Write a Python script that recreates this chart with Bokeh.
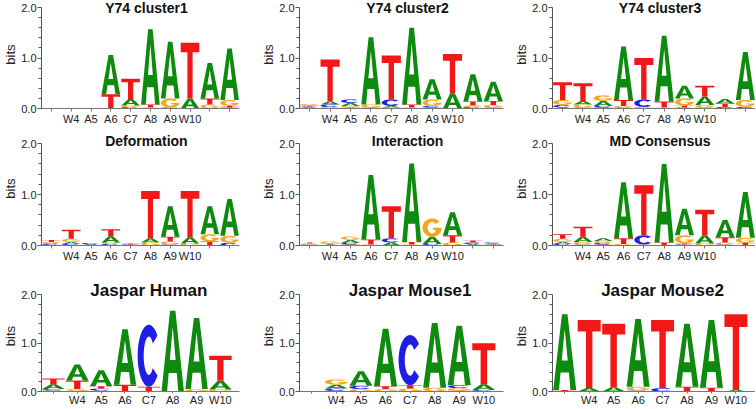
import numpy as np
from bokeh.plotting import figure
from bokeh.layouts import column, row
from bokeh.models import Label, FixedTicker, ColumnDataSource, Range1d, NumeralTickFormatter
from bokeh.embed import file_html
from bokeh.resources import INLINE

# ---------------- data (bits per letter, per logo column) ----------------
POS_LABELS = ["W4", "A5", "A6", "C7", "A8", "A9", "W10"]

cluster1 = dict(
    A=[0, 0, 0, .78, .13, 1.49, 1.12, .20, .70, 1.02],
    C=[0, 0, 0, 0, .03, 0, .02, 0, 0, .02],
    G=[0, 0, 0, 0, .03, .02, .18, 0, .08, .12],
    T=[0, 0, 0, .28, .40, .06, 0, 1.10, .12, .03],
)
cluster2 = dict(
    A=[.02, .06, .06, 1.33, .03, 1.52, .40, .30, .54, .38],
    C=[.02, .05, .07, 0, .13, 0, .03, 0, .03, .02],
    G=[.03, .03, .03, .06, .02, .02, .13, 0, .03, .05],
    T=[.02, .83, .02, .02, .87, .06, .02, .78, .08, .08],
)
cluster3 = dict(
    A=[.02, .07, .10, 1.06, 0, 1.30, .25, .17, .09, .95],
    C=[.05, .02, .03, .02, .15, 0, .02, .02, .02, .02],
    G=[.10, .06, .11, .03, .03, .02, .14, .05, .01, .14],
    T=[.35, .35, .02, .12, .82, .12, .04, .21, .07, .01],
)
deformation = dict(
    A=[.01, .04, .02, .12, 0, .08, .60, .12, .55, .72],
    C=[.03, .03, .03, .03, .02, 0, .02, 0, 0, .05],
    G=[.03, .06, 0, .03, 0, .06, .06, .04, .14, .14],
    T=[.04, .18, 0, .14, .02, .93, .09, .91, .08, 0],
)
interaction = dict(
    A=[0, .02, .06, 1.26, .06, 1.54, .14, .45, .03, .02],
    C=[.02, 0, .03, 0, .08, 0, .03, 0, .03, .02],
    G=[.02, .04, .065, .02, 0, .02, .36, .06, 0, .01],
    T=[.02, .02, .02, .10, .63, .05, 0, .14, .04, .01],
)
md_consensus = dict(
    A=[.04, .10, .05, 1.10, 0, 1.54, .52, .16, .34, .90],
    C=[.03, .02, .03, 0, .18, 0, .02, 0, .02, .01],
    G=[.06, .05, .04, .03, .02, 0, .16, .04, .04, .10],
    T=[.09, .20, .02, .11, .98, .06, .02, .50, .10, .04],
)
jaspar_human = dict(
    A=[.10, .33, .33, 1.15, 0, 1.67, 1.47, .18],
    C=[.03, .01, .04, 0, 1.28, 0, 0, 0],
    G=[.02, .04, .02, 0, 0, 0, .05, .04],
    T=[.12, .18, .05, .14, .10, 0, 0, .52],
)
jaspar_mouse1 = dict(
    A=[0, .08, .30, 1.19, 0, 1.34, 1.23, .12],
    C=[0, .05, .07, 0, 1.04, 0, .06, .03],
    G=[0, .11, .05, .05, .06, .08, .05, 0],
    T=[0, .01, 0, .06, .07, 0, .02, .85],
)
jaspar_mouse2 = dict(
    A=[1.57, .07, .09, 1.40, 0, 1.30, 1.40, .03],
    C=[0, 0, 0, .02, .07, 0, 0, 0],
    G=[0, 0, 0, .08, 0, 0, 0, 0],
    T=[.03, 1.41, 1.31, 0, 1.41, .10, .08, 1.57],
)

TITLES = [["Y74 cluster1", "Y74 cluster2", "Y74 cluster3"],
          ["Deformation", "Interaction", "MD Consensus"],
          ["Jaspar Human", "Jaspar Mouse1", "Jaspar Mouse2"]]
PANELS = [[cluster1, cluster2, cluster3],
          [deformation, interaction, md_consensus],
          [jaspar_human, jaspar_mouse1, jaspar_mouse2]]

COLORS = dict(A="#0e8a0e", C="#1e1ee6", G="#f6a61c", T="#f21818")
FONT = "Liberation Sans"


# ---------------- letter outlines in a unit box ----------------
def _arc(rx, ry, a0, a1, n=40):
    t = np.radians(np.linspace(a0, a1, n))
    return list(zip(0.5 + rx * np.cos(t), 0.5 + ry * np.sin(t)))


def letter_rings(ch):
    if ch == "A":
        outer = [(0, 0), (0.25, 0), (0.32, 0.23), (0.68, 0.23), (0.75, 0), (1, 0), (0.62, 1), (0.38, 1)]
        hole = [(0.5, 0.8), (0.63, 0.39), (0.37, 0.39)]
        return [outer, hole]
    if ch == "T":
        return [[(0, 1), (1, 1), (1, 0.83), (0.64, 0.83), (0.64, 0), (0.36, 0), (0.36, 0.83), (0, 0.83)]]
    rx_i, ry_i = 0.23, 0.31
    if ch == "C":
        outer = _arc(0.5, 0.5, 40, 320)
        inner = _arc(rx_i, ry_i, 320, 40)
        return [outer + inner]
    # G
    outer = _arc(0.5, 0.5, 40, 360)
    th = 360 - np.degrees(np.arcsin(0.13 / ry_i))
    inner = _arc(rx_i, ry_i, th, 40)
    return [outer + [(0.55, 0.5), (0.55, 0.37)] + inner]


SHAPES = {ch: letter_rings(ch) for ch in "ACGT"}


def logo_source(data, lw=0.94):
    ncol = len(data["A"])
    xs, ys, cols = [], [], []
    for i in range(ncol):
        heights = sorted([(data[ch][i], ch) for ch in "ACGT" if data[ch][i] > 0])
        base = 0.0
        xc = i + 1
        for h, ch in heights:
            rx, ry = [], []
            for ring in SHAPES[ch]:
                rx.append([xc - lw / 2 + ux * lw for ux, uy in ring])
                ry.append([base + uy * h for ux, uy in ring])
            xs.append([rx])
            ys.append([ry])
            cols.append(COLORS[ch])
            base += h
    return ColumnDataSource(dict(xs=xs, ys=ys, color=cols))


# ---------------- layout geometry (pixels) ----------------
FIG_W = [252, 252, 251]
BORDER_L = [35, 47, 48]
BORDER_R = [13, 1, 0]
FIG_H = [131, 149, 128]
BORDER_B = [23, 35, 12]
HEADROOM = [7, 12, 15]      # pixels of frame above the 2.0 tick
TITLE_X = [5.8, 5.8, 5.0]
TITLE_SIZE = ["14px", "14px", "17px"]
TITLE_DY = [0, 3, 4]
XTICK_OUT = [3, 3, 2]
XLABEL_STANDOFF = [1, 1, 0]


def make_panel(r, c):
    data = PANELS[r][c]
    ncol = len(data["A"])
    xend = ncol + 0.5 if ncol == 10 else 8.8
    frame_h = FIG_H[r] - BORDER_B[r]
    ytop = 2.0 * frame_h / (frame_h - HEADROOM[r])
    p = figure(width=FIG_W[c], height=FIG_H[r], title=None,
               x_range=Range1d(0.5, xend), y_range=Range1d(0, ytop),
               output_backend="svg", toolbar_location=None,
               min_border_left=BORDER_L[c], min_border_right=BORDER_R[c],
               min_border_top=0, min_border_bottom=BORDER_B[r])
    p.multi_polygons(xs="xs", ys="ys", fill_color="color", line_color=None,
                     source=logo_source(data))
    p.xgrid.visible = False
    p.ygrid.visible = False
    p.outline_line_color = None

    ya = p.yaxis[0]
    ya.bounds = (0, 2)
    ya.ticker = FixedTicker(ticks=[0, 1, 2], minor_ticks=[0.2, 0.4, 0.6, 0.8, 1.2, 1.4, 1.6, 1.8])
    ya.formatter = NumeralTickFormatter(format="0.0")
    ya.axis_label = "bits"
    ya.axis_label_text_font = FONT
    ya.axis_label_text_font_style = "normal"
    ya.axis_label_text_font_size = "13px"
    ya.axis_label_text_color = "#222222"
    ya.axis_label_standoff = 0
    ya.major_label_text_font = FONT
    ya.major_label_text_font_size = "11px"
    ya.major_label_text_color = "#222222"
    ya.major_label_standoff = 1
    ya.major_tick_out = 4
    ya.major_tick_in = 0
    ya.minor_tick_out = 3
    ya.minor_tick_in = 0
    ya.axis_line_color = "#555555"
    ya.major_tick_line_color = "#555555"
    ya.minor_tick_line_color = "#555555"

    xa = p.xaxis[0]
    xa.ticker = FixedTicker(ticks=list(range(1, ncol + 1)))
    over = {}
    for i in range(1, ncol + 1):
        over[i] = POS_LABELS[i - 2] if 2 <= i <= 8 else ""
    xa.major_label_overrides = over
    xa.major_label_text_font = FONT
    xa.major_label_text_font_size = "11px"
    xa.major_label_text_color = "#222222"
    xa.major_label_standoff = XLABEL_STANDOFF[r]
    xa.major_tick_out = XTICK_OUT[r]
    xa.major_tick_in = 0
    xa.minor_tick_line_color = None
    xa.axis_line_color = "#777777"
    xa.major_tick_line_color = "#777777"

    p.add_layout(Label(x=TITLE_X[r], y=2.0, y_offset=TITLE_DY[r], text=TITLES[r][c],
                       text_align="center", text_baseline="middle",
                       text_font=FONT, text_font_style="bold",
                       text_font_size=TITLE_SIZE[r], text_color="#111111"))
    return p


rows = [row(*[make_panel(r, c) for c in range(3)]) for r in range(3)]
layout = column(*rows)

open("out.html", "w").write(file_html(layout, INLINE))
